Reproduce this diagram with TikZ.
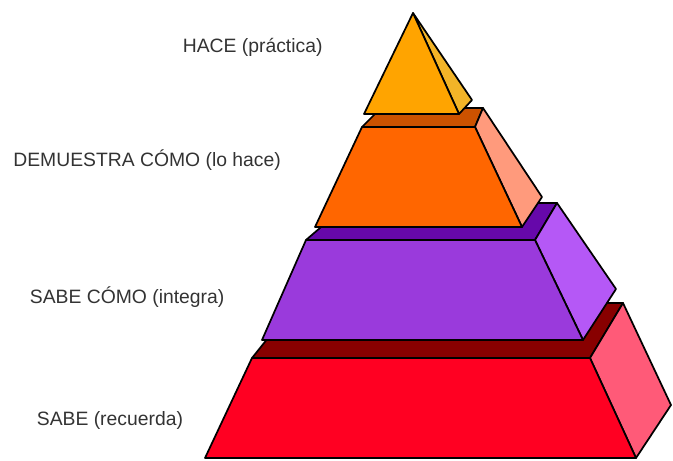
\documentclass[tikz,border=0pt]{standalone}
\usepackage{fontspec}
\setmainfont{Liberation Sans}
\definecolor{labelgray}{HTML}{333333}
\definecolor{hacefront}{HTML}{FFA400}
\definecolor{haceside}{HTML}{F2B428}
\definecolor{demfront}{HTML}{FF6600}
\definecolor{demtop}{HTML}{CC5200}
\definecolor{demside}{HTML}{FF9A7C}
\definecolor{cmfront}{HTML}{9A3ADC}
\definecolor{cmtop}{HTML}{6608AA}
\definecolor{cmside}{HTML}{B558F6}
\definecolor{sbfront}{HTML}{FF0022}
\definecolor{sbtop}{HTML}{880000}
\definecolor{sbside}{HTML}{FF5A78}
\begin{document}
\begin{tikzpicture}[x=0.75pt,y=-0.75pt,line width=1.3pt,line join=round,
    face/.style={draw=black,fill=#1},
    level/.style={anchor=base west,inner sep=0pt,text=labelgray,font=\fontsize{14.5}{17}\selectfont}]
    \useasboundingbox (0,0) rectangle (673,460);
    \draw[face=sbtop] (252,358) -- (296,303) -- (623,303) -- (590,358) -- cycle;
    \draw[face=sbside] (590,358) -- (623,303) -- (671,405) -- (636,458) -- cycle;
    \draw[face=sbfront] (205,458) -- (636,458) -- (590,358) -- (252,358) -- cycle;
    \draw[face=cmtop] (306,240) -- (349,203) -- (557,203) -- (535,240) -- cycle;
    \draw[face=cmside] (535,240) -- (557,203) -- (616,289) -- (583,340) -- cycle;
    \draw[face=cmfront] (262,340) -- (583,340) -- (535,240) -- (306,240) -- cycle;
    \draw[face=demtop] (362,127) -- (381,108) -- (483,108) -- (475,127) -- cycle;
    \draw[face=demside] (475,127) -- (483,108) -- (542,197) -- (522,227) -- cycle;
    \draw[face=demfront] (315,227) -- (522,227) -- (475,127) -- (362,127) -- cycle;
    \draw[face=haceside] (413,13) -- (472,100) -- (459,114) -- cycle;
    \draw[face=hacefront] (364,114) -- (459,114) -- (413,13) -- cycle;
    \node[level] (hace) at (182,53) {HACE (práctica)};
    \node[level] (demuestra) at (12.5,166) {DEMUESTRA CÓMO (lo hace)};
    \node[level] (sabecomo) at (29,303) {SABE CÓMO (integra)};
    \node[level] (sabe) at (36,425) {SABE (recuerda)};
\end{tikzpicture}
\end{document}
